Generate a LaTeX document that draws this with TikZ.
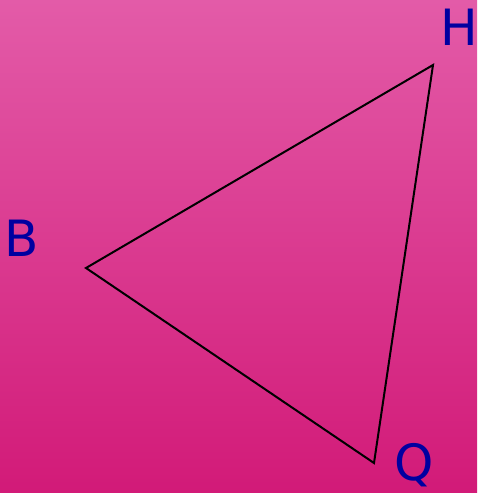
\documentclass[tikz,border=0pt]{standalone}
\usepackage{fontspec}
\setmainfont{DejaVu Sans}
\definecolor{bgtop}{HTML}{E35BA8}
\definecolor{bgbot}{HTML}{D21A78}
\definecolor{lbl}{HTML}{0000A0}
\begin{document}
\begin{tikzpicture}[x=1pt,y=-1pt,
  lab/.style={text=lbl,font=\fontsize{50}{50}\selectfont,inner sep=0pt,anchor=base west},
  edge/.style={draw=black,line width=2pt,line join=miter}]
\shade[top color=bgtop,bottom color=bgbot] (0,0) rectangle (477,493);
\useasboundingbox (0,0) rectangle (477,493);
\coordinate (h) at (433,65);
\coordinate (b) at (86,268);
\coordinate (q) at (374,463);
\draw[edge] (h) -- (b) -- (q) -- cycle;
\node[lab] (lh) at (440,45) {H};
\node[lab] (lb) at (4,256) {B};
\node[lab] (lq) at (394,480) {Q};
\end{tikzpicture}
\end{document}
